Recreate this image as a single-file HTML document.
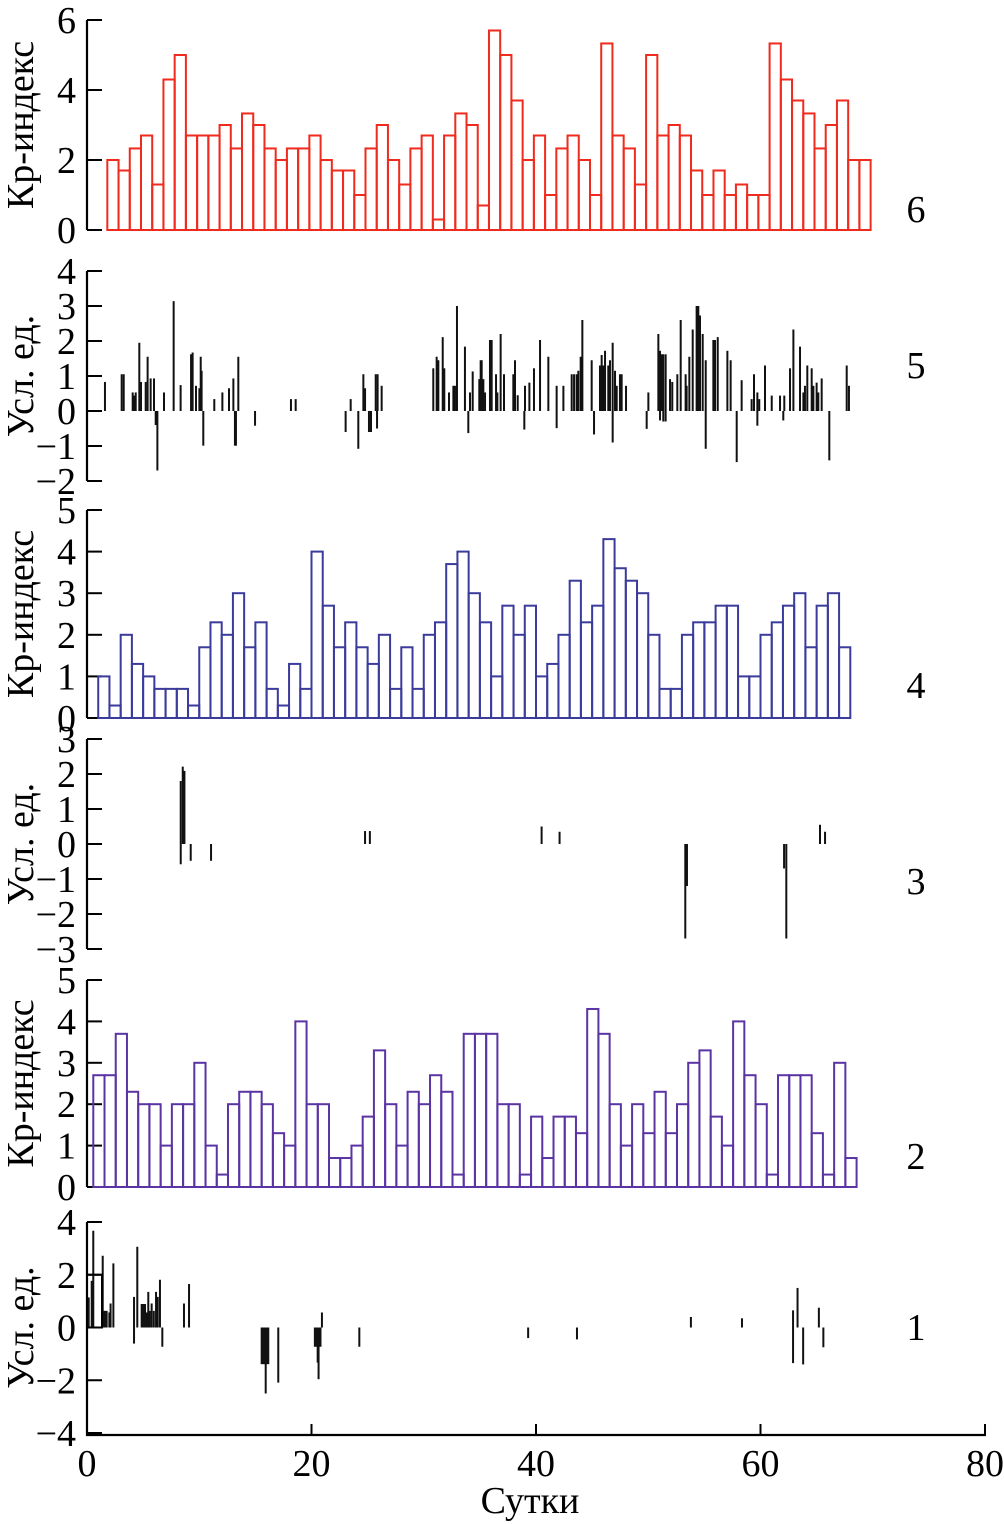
<!DOCTYPE html>
<html><head><meta charset="utf-8"><style>
html,body{margin:0;padding:0;background:#fff}
svg{display:block}
text{font-family:"Liberation Serif",serif;fill:#000}
</style></head><body>
<svg id="chart" width="1004" height="1524" viewBox="0 0 1004 1524" xmlns="http://www.w3.org/2000/svg"></svg>
<script>
// ---- data ----
const kp6Start = 1.81;
const kp6Values = [2.0,1.7,2.33,2.7,1.3,4.3,5.0,2.7,2.7,2.7,3.0,2.33,3.33,3.0,2.33,2.0,2.33,2.33,2.7,2.0,1.7,1.7,1.0,2.33,3.0,2.0,1.3,2.33,2.7,0.3,2.7,3.33,3.0,0.7,5.7,5.0,3.7,2.0,2.7,1.0,2.33,2.7,2.0,1.0,5.33,2.7,2.33,1.3,5.0,2.7,3.0,2.7,1.7,1.0,1.7,1.0,1.3,1.0,1.0,5.33,4.3,3.7,3.33,2.33,3.0,3.7,2.0,2.0];
const kp4Start = 1.0;
const kp4Values = [1.0,0.3,2.0,1.3,1.0,0.7,0.7,0.7,0.3,1.7,2.3,2.0,3.0,1.7,2.3,0.7,0.3,1.3,0.7,4.0,2.7,1.7,2.3,1.7,1.3,2.0,0.7,1.7,0.7,2.0,2.3,3.7,4.0,3.0,2.3,1.0,2.7,2.0,2.7,1.0,1.3,2.0,3.3,2.3,2.7,4.3,3.6,3.3,3.0,2.0,0.7,0.7,2.0,2.3,2.3,2.7,2.7,1.0,1.0,2.0,2.3,2.7,3.0,1.7,2.7,3.0,1.7];
const kp2Start = 0.56;
const kp2Values = [2.7,2.7,3.7,2.3,2.0,2.0,1.0,2.0,2.0,3.0,1.0,0.3,2.0,2.3,2.3,2.0,1.3,1.0,4.0,2.0,2.0,0.7,0.7,1.0,1.7,3.3,2.0,1.0,2.3,2.0,2.7,2.3,0.3,3.7,3.7,3.7,2.0,2.0,0.3,1.7,0.7,1.7,1.7,1.3,4.3,3.7,2.0,1.0,2.0,1.3,2.3,1.3,2.0,3.0,3.3,1.7,1.0,4.0,2.7,2.0,0.3,2.7,2.7,2.7,1.3,0.3,3.0,0.7];

const s5Days = [1.60,3.09,3.27,4.07,4.22,4.34,4.66,4.81,5.23,5.40,5.67,5.97,6.12,6.27,6.86,7.72,8.34,9.27,9.41,9.71,10.01,10.13,10.21,10.36,11.34,12.06,12.65,13.04,13.18,13.27,13.48,14.97,18.17,18.59,23.04,23.49,24.17,24.62,24.77,25.12,25.30,25.72,25.84,25.89,26.25,
30.85,31.15,31.30,31.69,31.83,32.25,32.64,32.78,32.96,33.67,33.97,34.12,34.36,34.95,35.07,35.16,35.31,35.46,35.90,36.05,36.44,36.56,36.85,37.15,37.98,38.13,38.37,38.96,39.02,39.41,39.82,40.36,41.10,41.84,41.84,42.44,43.18,43.39,43.62,43.77,43.98,44.13,44.96,45.17,45.70,45.85,46.00,46.15,46.44,46.59,46.83,46.83,47.04,47.19,47.48,47.63,48.02,
49.86,50.01,50.90,51.05,51.05,51.20,51.34,51.34,51.55,51.55,51.94,52.14,52.59,52.89,53.33,53.42,53.66,53.96,54.31,54.46,54.61,54.85,55.12,55.12,55.80,55.95,56.19,57.05,57.34,57.88,58.32,59.21,59.42,59.72,59.72,59.89,60.40,61.00,61.74,62.03,62.12,62.63,62.93,63.52,63.82,63.96,64.17,64.56,64.71,65.00,65.15,65.45,66.13,67.68,67.88];
const s5Values = [0.83,1.05,1.05,0.53,0.44,0.53,1.95,0.83,0.83,1.55,0.93,0.93,-0.4,-1.7,0.53,3.14,0.74,1.62,1.67,0.72,0.65,1.55,1.15,-0.99,0.34,0.53,0.65,0.93,-0.99,-0.99,1.55,-0.42,0.34,0.34,-0.6,0.34,-1.08,1.05,0.65,-0.6,-0.6,1.05,-0.5,1.05,0.72,
1.22,1.55,1.45,2.11,1.22,0.53,0.72,0.72,3.0,1.84,-0.63,0.53,1.13,0.91,1.45,1.45,0.91,0.53,2.03,2.03,1.05,0.53,2.2,1.05,1.05,1.45,0.45,-0.53,0.72,0.81,1.22,2.03,1.55,-0.49,0.72,0.72,1.05,1.05,1.05,1.15,1.55,2.6,1.45,-0.67,1.3,1.6,1.3,1.72,1.3,1.45,1.95,-0.9,1.15,0.72,1.05,1.05,0.72,
-0.51,0.53,2.2,1.72,-0.27,1.62,1.62,-0.3,1.62,-0.3,0.91,0.83,1.05,2.6,1.05,0.72,1.55,2.33,3.0,3.0,2.73,2.2,1.45,-1.08,2.03,2.03,2.11,1.72,1.45,-1.46,0.88,0.34,1.05,0.53,-0.42,0.34,1.3,0.44,0.44,-0.27,0.44,1.22,2.33,1.84,0.53,0.72,1.3,1.22,0.72,0.81,0.53,0.93,-1.41,1.3,0.72];

const s3Days = [8.35,8.35,8.53,8.68,9.24,11.05,24.77,25.2,40.5,42.1,53.3,53.45,62.1,62.3,65.3,65.75];
const s3Values = [1.8,-0.58,2.21,2.09,-0.48,-0.48,0.37,0.37,0.5,0.35,-2.7,-1.2,-0.7,-2.7,0.55,0.35];

const s1Days = [0.05,0.15,0.42,0.56,1.4,1.5,1.6,1.75,1.99,2.1,2.35,4.19,4.19,4.48,4.87,4.97,5.07,5.17,5.3,5.46,5.6,5.76,5.95,6.15,6.3,6.5,6.71,8.64,9.09,15.56,15.7,15.85,15.92,16.0,16.15,17.04,20.3,20.45,20.55,20.63,20.8,20.93,24.26,39.3,43.65,53.8,58.35,62.9,62.9,63.3,63.8,65.2,65.6];
const s1Values = [1.14,1.14,1.77,3.67,2.72,0.63,0.63,0.63,0.57,0.91,2.43,1.16,-0.61,3.06,0.89,0.89,0.89,0.89,0.57,1.35,0.63,0.91,0.63,1.35,1.16,1.81,-0.73,0.91,1.65,-1.39,-1.39,-1.39,-2.5,-1.39,-1.39,-2.09,-0.73,-0.73,-1.33,-1.96,-0.73,0.57,-0.73,-0.4,-0.45,0.4,0.35,0.65,-1.35,1.5,-1.4,0.75,-0.75];

const xTicks = [0,20,40,60,80];
const ticks6 = [0,2,4,6];
const ticks5 = [-2,-1,0,1,2,3,4];
const ticks4 = [0,1,2,3,4,5];
const ticks3 = [-3,-2,-1,0,1,2,3];
const ticks2 = [0,1,2,3,4,5];
const ticks1 = [-4,-2,0,2,4];

// ---- drawing ----
const svg = document.getElementById('chart');
const NS = 'http://www.w3.org/2000/svg';
const X0 = 87, X1 = 985;
function xs(d){ return X0 + (X1 - X0) * d / 80; }
function mk(tag, attrs, parent){
  const e = document.createElementNS(NS, tag);
  for (const k in attrs) e.setAttribute(k, attrs[k]);
  (parent || svg).appendChild(e);
  return e;
}
function yScale(vmin, vmax, ymin, ymax){ // ymin pixel for vmin
  return v => ymin + (v - vmin) * (ymax - ymin) / (vmax - vmin);
}

const panels = [
  {id:'6', ticks:ticks6, vmin:0, vmax:6, ybot:230, ytop:20, title:'Кр-индекс', num:'6', numY:222},
  {id:'5', ticks:ticks5, vmin:-2, vmax:4, ybot:481, ytop:271, title:'Усл. ед.', num:'5', numY:378},
  {id:'4', ticks:ticks4, vmin:0, vmax:5, ybot:718, ytop:510, title:'Кр-индекс', num:'4', numY:698},
  {id:'3', ticks:ticks3, vmin:-3, vmax:3, ybot:949, ytop:739, title:'Усл. ед.', num:'3', numY:894},
  {id:'2', ticks:ticks2, vmin:0, vmax:5, ybot:1187, ytop:980, title:'Кр-индекс', num:'2', numY:1169},
  {id:'1', ticks:ticks1, vmin:-4, vmax:4, ybot:1433, ytop:1222, title:'Усл. ед.', num:'1', numY:1340}
];

panels.forEach(p => {
  p.y = yScale(p.vmin, p.vmax, p.ybot, p.ytop);
  const g = mk('g', {});
  
  
  const ax = mk('line', {x1:X0, x2:X0, y1:p.ytop, y2:(p.id==='1'?1436:p.ybot), stroke:'#000','stroke-width':2.2}, g);
  
  
  p.ticks.forEach(t => {
    const yy = p.y(t);
    const tk = mk('line', {x1:X0, x2:X0+15, y1:yy, y2:yy, stroke:'#000','stroke-width':2}, g);
    
    
    const lb = mk('text', {x:76, y:yy+13, 'font-size':38, 'text-anchor':'end'}, g);
    lb.textContent = t < 0 ? '\u2212' + Math.abs(t) : String(t);
    
    
  });
  const cy = (p.ytop + p.ybot) / 2;
  const tt = mk('text', {x:0, y:0, 'font-size':38, 'text-anchor':'middle', transform:'translate(33,' + cy + ') rotate(-90)'}, g);
  tt.textContent = p.title;
  
  
  const nm = mk('text', {x:916, y:p.numY, 'font-size':38, 'text-anchor':'middle'}, g);
  nm.textContent = p.num;
  
  
  p.g = g;
});

function drawBars(p, start, values, color){
  values.forEach((v, i) => {
    const xa = xs(start + i), xb = xs(start + i + 1);
    const r = mk('rect', {x:xa, y:p.y(v), width:xb - xa, height:p.y(0) - p.y(v), fill:'none', stroke:color, 'stroke-width':2}, p.g);
    
    
  });
}
function drawSpikes(p, days, values){
  days.forEach((d, i) => {
    const l = mk('line', {x1:xs(d), x2:xs(d), y1:p.y(0), y2:p.y(values[i]), stroke:'#111','stroke-width':2}, p.g);
    
    
  });
}

drawBars(panels[0], kp6Start, kp6Values, '#f02a1c');
drawSpikes(panels[1], s5Days, s5Values);
drawBars(panels[2], kp4Start, kp4Values, '#3b3b9c');
drawSpikes(panels[3], s3Days, s3Values);
drawBars(panels[4], kp2Start, kp2Values, '#5b34a4');
drawSpikes(panels[5], s1Days, s1Values);
// small outline box at start of panel 1
const bx = mk('rect', {x:X0, y:panels[5].y(2), width:15, height:panels[5].y(0)-panels[5].y(2), fill:'none', stroke:'#000','stroke-width':2}, panels[5].g);



// x axis
const xg = mk('g', {});


const xl = mk('line', {x1:X0-1, x2:X1+1, y1:1435, y2:1435, stroke:'#000','stroke-width':2.2}, xg);


xTicks.forEach(t => {
  const tk = mk('line', {x1:xs(t), x2:xs(t), y1:1435, y2:1424, stroke:'#000','stroke-width':2}, xg);
  
  
  const lb = mk('text', {x:xs(t), y:1476, 'font-size':38, 'text-anchor':'middle'}, xg);
  lb.textContent = String(t);
  
  
});
const xt = mk('text', {x:530, y:1513, 'font-size':38, 'text-anchor':'middle'}, xg);
xt.textContent = 'Сутки';


</script>
</body></html>
